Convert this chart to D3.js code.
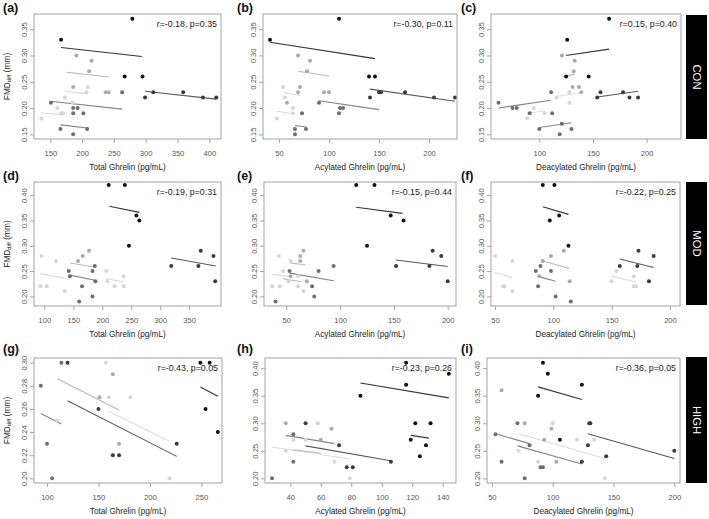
<!DOCTYPE html>
<html>
<head>
<meta charset="utf-8">
<script src="https://cdn.jsdelivr.net/npm/d3@7"></script>
<style>
  body { margin: 0; background: #fff; }
  svg { display: block; font-family: "Liberation Sans", Arial, sans-serif; }
</style>
</head>
<body>
<svg id="fig" width="709" height="519"></svg>
<script>
// grey levels used for the subjects (0 = darkest)
const shades = ["#111111", "#3b3b3b", "#6e6e6e", "#ababab", "#d6d6d6"];

const xTitles = ["Total Ghrelin (pg/mL)", "Acylated Ghrelin (pg/mL)", "Deacylated Ghrelin (pg/mL)"];
const groups = ["CON", "MOD", "HIGH"];
const letters = ["(a)", "(b)", "(c)", "(d)", "(e)", "(f)", "(g)", "(h)", "(i)"];
const stats = [
  "r=-0.18, p=0.35", "r=-0.30, p=0.11", "r=0.15, p=0.40",
  "r=-0.19, p=0.31", "r=-0.15, p=0.44", "r=-0.22, p=0.25",
  "r=-0.43, p=0.05", "r=-0.23, p=0.26", "r=-0.36, p=0.05"
];

const xTicks = [
  [150, 200, 250, 300, 350, 400], [50, 100, 150, 200], [100, 150, 200],
  [100, 150, 200, 250, 300, 350], [50, 100, 150, 200], [50, 100, 150, 200],
  [100, 150, 200, 250], [40, 60, 80, 100, 120, 140], [50, 100, 150, 200]
];
const yTicks = [
  [0.15, 0.20, 0.25, 0.30, 0.35], [0.15, 0.20, 0.25, 0.30, 0.35], [0.15, 0.20, 0.25, 0.30, 0.35],
  [0.20, 0.25, 0.30, 0.35, 0.40], [0.20, 0.25, 0.30, 0.35, 0.40], [0.20, 0.25, 0.30, 0.35, 0.40],
  [0.20, 0.22, 0.24, 0.26, 0.28, 0.30], [0.20, 0.25, 0.30, 0.35, 0.40], [0.20, 0.25, 0.30, 0.35, 0.40]
];
const xDomains = [
  [124.4, 418.4], [34, 228], [55, 232],
  [82, 405], [29.3, 207.7], [46.6, 208.6],
  [87.4, 270], [23.4, 148.7], [46, 204.7]
];
const yDomains = [
  [0.1412, 0.3788], [0.1412, 0.3788], [0.1412, 0.3788],
  [0.181, 0.426], [0.181, 0.426], [0.181, 0.426],
  [0.196, 0.304], [0.1916, 0.4184], [0.1916, 0.4184]
];

// points: [ghrelin, FMD, shade]
const ptsA = [[279,0.37,0],[167,0.33,0],[191,0.30,3],[215,0.29,3],[211,0.27,3],[267,0.26,0],[295,0.26,0],
  [186,0.24,3],[209,0.24,4],[207,0.23,4],[237,0.23,3],[242,0.23,3],[263,0.23,2],[299,0.22,1],[312,0.23,1],
  [359,0.23,1],[390,0.22,1],[411,0.22,1],[173,0.22,4],[151,0.21,2],[161,0.20,4],[185,0.21,4],[186,0.20,2],
  [193,0.20,2],[186,0.19,2],[202,0.19,2],[167,0.19,4],[170,0.19,4],[136,0.18,4],[166,0.16,2],[186,0.15,2],[208,0.16,2]];
const ptsB = [[110,0.37,0],[41,0.33,0],[69,0.30,3],[81,0.29,3],[78,0.27,3],[140,0.26,0],[146,0.26,0],
  [54,0.24,4],[71,0.24,3],[69,0.23,3],[95,0.23,3],[100,0.23,3],[150,0.23,1],[152,0.23,1],[176,0.23,1],
  [205,0.22,1],[226,0.22,1],[141,0.22,1],[56,0.22,4],[58,0.21,3],[64,0.20,4],[90,0.21,2],[111,0.20,2],
  [114,0.20,2],[110,0.19,2],[64,0.19,4],[73,0.19,2],[48,0.18,4],[66,0.16,2],[77,0.16,2],[66,0.15,2]];
const ptsC = [[165,0.37,0],[126,0.33,0],[121,0.30,3],[133,0.29,3],[132,0.27,3],[125,0.26,0],[146,0.26,0],
  [131,0.24,3],[137,0.24,3],[111,0.23,2],[128,0.23,4],[139,0.23,3],[157,0.23,1],[178,0.23,1],[154,0.22,1],
  [184,0.22,1],[192,0.22,1],[116,0.22,4],[62,0.21,2],[75,0.20,2],[79,0.20,2],[128,0.21,4],[95,0.20,4],
  [91,0.19,2],[112,0.19,2],[89,0.18,4],[105,0.19,4],[100,0.16,2],[121,0.17,2],[130,0.16,2],[119,0.15,2]];
const ptsD = [[211,0.42,0],[239,0.42,0],[259,0.36,0],[264,0.35,0],[246,0.30,0],
  [319,0.26,1],[370,0.29,1],[366,0.26,1],[392,0.28,1],[395,0.23,1],
  [177,0.29,3],[166,0.28,3],[158,0.27,3],[142,0.25,2],[144,0.24,2],[183,0.25,2],[187,0.26,2],[188,0.23,2],
  [165,0.22,2],[183,0.20,2],[160,0.19,2],[95,0.28,4],[120,0.27,4],[93,0.22,4],[104,0.22,4],[135,0.21,4],
  [207,0.25,4],[209,0.23,4],[221,0.22,4],[237,0.24,4],[237,0.22,4]];
const ptsE = [[115,0.42,0],[132,0.42,0],[147,0.36,0],[159,0.35,0],[125,0.30,0],
  [152,0.26,1],[186,0.29,1],[183,0.26,1],[194,0.28,1],[200,0.23,1],
  [53,0.25,2],[80,0.25,2],[94,0.26,2],[40,0.19,2],[74,0.22,2],[76,0.20,2],[54,0.24,3],
  [63,0.28,3],[66,0.29,3],[63,0.27,3],[69,0.23,3],
  [43,0.28,4],[54,0.27,4],[37,0.22,4],[44,0.22,4],[47,0.25,4],[52,0.23,4],[61,0.24,4],[61,0.22,4],[66,0.21,4]];
const ptsF = [[91,0.42,0],[101,0.42,0],[105,0.36,0],[97,0.35,0],[113,0.30,0],
  [157,0.26,1],[173,0.29,1],[172,0.26,1],[186,0.28,1],[182,0.23,1],
  [89,0.26,2],[85,0.25,2],[98,0.25,2],[87,0.22,2],[102,0.20,2],[115,0.19,2],
  [109,0.29,3],[98,0.28,3],[91,0.27,3],[114,0.23,3],[88,0.24,3],
  [50,0.28,4],[65,0.27,4],[57,0.22,4],[58,0.22,4],[65,0.21,4],
  [154,0.25,4],[150,0.23,4],[169,0.24,4],[169,0.22,4],[171,0.22,4]];
const ptsG = [[94,0.28,2],[100,0.23,2],[105,0.20,2],[114,0.30,2],[120,0.30,1],[157,0.30,4],[164,0.29,3],
  [151,0.27,3],[160,0.27,4],[181,0.27,4],[150,0.26,1],[164,0.22,1],[170,0.22,1],[170,0.23,3],[110,0.25,4],
  [219,0.20,4],[226,0.23,1],[249,0.30,0],[258,0.30,0],[254,0.26,0],[266,0.24,0]];
const ptsH = [[116,0.41,0],[144,0.39,0],[116,0.37,0],[86,0.35,0],[122,0.30,0],[132,0.30,0],[119,0.27,0],
  [129,0.26,0],[125,0.24,0],[37,0.30,3],[50,0.30,1],[58,0.30,4],[67,0.29,3],[42,0.28,2],[42,0.27,4],
  [60,0.27,3],[50,0.27,4],[72,0.26,1],[37,0.25,4],[42,0.23,2],[69,0.23,4],[77,0.22,1],[81,0.22,1],
  [106,0.23,1],[28,0.20,2],[79,0.20,4]];
const ptsI = [[92,0.41,0],[96,0.39,0],[124,0.37,0],[88,0.35,0],[106,0.27,0],
  [58,0.36,3],[71,0.30,2],[77,0.30,3],[100,0.30,4],[99,0.29,3],[130,0.30,1],[131,0.30,1],[129,0.26,1],
  [144,0.24,1],[200,0.25,1],[53,0.28,2],[81,0.26,2],[93,0.27,3],[120,0.27,4],[134,0.27,4],[72,0.25,4],
  [58,0.23,2],[88,0.23,4],[103,0.23,3],[124,0.23,1],[90,0.22,2],[92,0.22,2],[77,0.20,2],[143,0.20,4]];

// per-subject fitted segments: [x1, y1, x2, y2, shade]
const segA = [[167,0.315,294,0.298,0],[176,0.268,242,0.259,3],[173,0.232,209,0.227,4],[299,0.232,411,0.217,1],
  [150,0.213,263,0.198,2],[136,0.191,170,0.187,4],[166,0.168,208,0.162,2]];
const segB = [[41,0.325,146,0.294,0],[69,0.270,100,0.261,3],[54,0.229,71,0.224,4],[141,0.236,226,0.213,1],
  [90,0.214,150,0.197,2],[48,0.194,64,0.189,4],[66,0.167,77,0.164,2]];
const segC = [[125,0.300,165,0.312,0],[121,0.260,133,0.264,3],[62,0.200,111,0.215,2],[116,0.222,139,0.229,4],
  [154,0.221,192,0.232,1],[89,0.190,105,0.195,4],[100,0.163,130,0.172,2]];
const segD = [[212,0.378,264,0.366,0],[319,0.276,396,0.260,1],[144,0.266,186,0.258,3],[144,0.242,187,0.232,2],
  [93,0.245,135,0.236,4],[206,0.235,237,0.229,4]];
const segE = [[115,0.376,158,0.364,0],[152,0.272,200,0.259,1],[53,0.246,94,0.231,2],[54,0.266,68,0.262,3],
  [37,0.244,54,0.239,4],[47,0.235,64,0.229,3]];
const segF = [[91,0.377,113,0.362,0],[157,0.274,186,0.257,1],[89,0.238,102,0.230,2],[91,0.270,114,0.255,3],
  [50,0.247,65,0.237,4],[150,0.240,171,0.228,4]];
const segG = [[249,0.279,266,0.271,0],[94,0.256,114,0.247,2],[110,0.286,170,0.259,3],[160,0.258,219,0.232,4],
  [120,0.267,226,0.219,1]];
const segH = [[86,0.373,144,0.346,0],[119,0.278,131,0.273,0],[37,0.278,69,0.263,2],[50,0.259,106,0.232,1],
  [28,0.257,79,0.235,4],[42,0.252,60,0.246,3]];
const segI = [[88,0.366,124,0.343,0],[129,0.281,200,0.236,1],[53,0.281,81,0.263,2],[72,0.281,143,0.236,4],
  [71,0.259,124,0.226,2]];

const allPts = [ptsA, ptsB, ptsC, ptsD, ptsE, ptsF, ptsG, ptsH, ptsI];
const allSegs = [segA, segB, segC, segD, segE, segF, segG, segH, segI];

// plot boxes in px: [left, right, top, bottom]
const boxes = [
  [34, 221, 14, 139], [263, 457, 14, 139], [491, 681, 14, 139],
  [34, 221, 182, 306], [264, 456, 182, 306], [491, 680, 182, 306],
  [34, 222, 358, 483], [265, 456, 358, 483], [487, 680, 358, 483]
];
const letterX = [3, 237, 461];
const letterY = [12, 180, 353];
const stripY = [[15, 139], [182, 305], [357, 483]];

const svg = d3.select("svg#fig");
const boxColor = "#a3a3a3";

boxes.forEach((b, i) => {
  const row = Math.floor(i / 3), col = i % 3;
  const [x0, x1, y0, y1] = b;
  const x = d3.scaleLinear().domain(xDomains[i]).range([x0, x1]);
  const y = d3.scaleLinear().domain(yDomains[i]).range([y1, y0]);
  const g = svg.append("g").attr("id", "panel_" + i);

  // x axis
  const xa = g.append("g")
    .attr("transform", `translate(0,${y1})`)
    .call(d3.axisBottom(x).tickValues(xTicks[i]).tickSize(4).tickPadding(7.5).tickFormat(d3.format("d")));
  xa.select(".domain").remove();
  xa.selectAll("line").attr("stroke", boxColor);
  xa.selectAll("text").attr("font-size", 7.6).attr("fill", "#555");
  xa.attr("font-family", null).attr("font-size", null);

  // y axis with rotated labels (R style)
  const ya = g.append("g")
    .attr("transform", `translate(${x0},0)`)
    .call(d3.axisLeft(y).tickValues(yTicks[i]).tickSize(4).tickFormat(d3.format(".2f")));
  ya.select(".domain").remove();
  ya.selectAll("line").attr("stroke", boxColor);
  ya.selectAll("text")
    .attr("x", null).attr("dy", null)
    .attr("text-anchor", "middle")
    .attr("transform", "translate(-7,0) rotate(-90)")
    .attr("font-size", 7.6).attr("fill", "#555");
  ya.attr("font-family", null).attr("font-size", null);

  // lines then points
  g.append("g").selectAll("line")
    .data(allSegs[i])
    .join("line")
      .attr("x1", d => x(d[0])).attr("y1", d => y(d[1]))
      .attr("x2", d => x(d[2])).attr("y2", d => y(d[3]))
      .attr("stroke", d => shades[d[4]])
      .attr("stroke-opacity", 0.85)
      .attr("stroke-width", 1.1);

  g.append("g").selectAll("circle")
    .data(allPts[i])
    .join("circle")
      .attr("cx", d => x(d[0]))
      .attr("cy", d => y(d[1]))
      .attr("r", 2)
      .attr("fill", d => shades[d[2]]);

  // frame
  g.append("rect")
    .attr("x", x0).attr("y", y0)
    .attr("width", x1 - x0).attr("height", y1 - y0)
    .attr("fill", "none").attr("stroke", boxColor);

  // correlation text (slightly narrow, like the source)
  g.append("text")
    .attr("transform", `translate(${x1 - 4},${y0 + 13}) scale(0.9,1)`)
    .attr("text-anchor", "end")
    .attr("font-size", 9.8).attr("fill", "#222")
    .text(stats[i]);

  // x title
  g.append("text")
    .attr("transform", `translate(${(x0 + x1) / 2},${y1 + 31}) scale(0.88,1)`)
    .attr("text-anchor", "middle")
    .attr("font-size", 9.3).attr("fill", "#222")
    .text(xTitles[col]);

  // panel letter
  g.append("text")
    .attr("x", letterX[col]).attr("y", letterY[row])
    .attr("font-size", 12.5).attr("font-weight", "bold").attr("fill", "#111")
    .text(letters[i]);

  // y title only in first column
  if (col === 0) {
    const t = g.append("text")
      .attr("transform", `translate(9.5,${(y0 + y1) / 2}) rotate(-90)`)
      .attr("text-anchor", "middle")
      .attr("font-size", 8.3).attr("fill", "#222");
    t.append("tspan").text("FMD");
    t.append("tspan").attr("font-size", 5.8).attr("dy", 1.6).text("diff");
    t.append("tspan").attr("dy", -1.6).text(" (mm)");
  }
});

// group strips on the right
groups.forEach((name, r) => {
  const [s0, s1] = stripY[r];
  svg.append("rect")
    .attr("x", 686).attr("y", s0)
    .attr("width", 21).attr("height", s1 - s0)
    .attr("fill", "#000");
  svg.append("text")
    .attr("transform", `translate(692.5,${(s0 + s1) / 2}) rotate(90)`)
    .attr("text-anchor", "middle")
    .attr("font-size", 11.3).attr("fill", "#fff")
    .text(name);
});
</script>
</body>
</html>
